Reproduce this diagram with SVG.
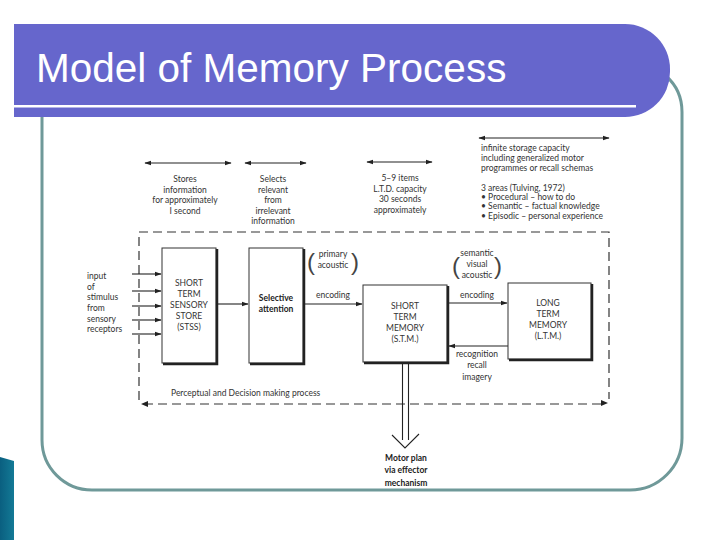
<svg xmlns="http://www.w3.org/2000/svg" width="720" height="540" viewBox="0 0 720 540">
<defs>
<marker id="ah" viewBox="0 0 10 10" refX="9" refY="5" markerWidth="7" markerHeight="7" orient="auto-start-reverse" markerUnits="userSpaceOnUse">
<path d="M0,1.5 L10,5 L0,8.5 Z" fill="#222"/>
</marker>
<linearGradient id="tg" x1="0" y1="0" x2="1" y2="0">
<stop offset="0" stop-color="#0a5f80"/>
<stop offset="1" stop-color="#137a96"/>
</linearGradient>
</defs>
<style>
.t{font-family:Lato,"Liberation Sans",sans-serif;font-size:8.5px;fill:#333;text-anchor:middle}
.l{text-anchor:start}
.b{font-weight:bold;fill:#222}
.ln{stroke:#222;stroke-width:1.1;fill:none}
.box{fill:#fff;stroke:#333;stroke-width:1}
.sh{stroke:#222;stroke-width:2.5;fill:none}
.dash{stroke:#333;stroke-width:1.2;fill:none;stroke-dasharray:9,5}
.par{font-family:"Liberation Sans",sans-serif;font-size:24px;fill:#444;font-weight:300}
</style>
<rect width="720" height="540" fill="#fff"/>
<path d="M0,457 L14,461 V540 H0 Z" fill="url(#tg)"/>
<path d="M42,117 V440 A50,50 0 0 0 92,490 H630 A52,52 0 0 0 682,438 V112 Q682,90 666,76" fill="none" stroke="#6f9999" stroke-width="3"/>
<g id="banner">
<path d="M14,24 H625 A45,45 0 0 1 670,69 V72 A45,45 0 0 1 625,117 H14 Z" fill="#6666cc"/>
<rect x="14" y="105" width="622" height="2.5" fill="#fff"/>
<text x="36" y="82" font-family="'Liberation Sans',Arial,sans-serif" font-size="40.5" fill="#fff">Model of Memory Process</text>
</g>
<g id="connectors">
<line class="ln" x1="145" y1="163" x2="231" y2="163" marker-start="url(#ah)" marker-end="url(#ah)"/>
<line class="ln" x1="245" y1="163" x2="306" y2="163" marker-start="url(#ah)" marker-end="url(#ah)"/>
<line class="ln" x1="367" y1="162" x2="432" y2="162" marker-start="url(#ah)" marker-end="url(#ah)"/>
<line class="ln" x1="479" y1="138" x2="609" y2="138" marker-start="url(#ah)" marker-end="url(#ah)"/>
<path class="dash" d="M139,400 V232 H609 V399"/>
<path class="dash" d="M144,404 H604"/>
<path d="M141,404 l7,-3 v6 Z M608,403 l-7,-3 v6 Z" fill="#222"/>
<line class="ln" x1="132" y1="274" x2="161" y2="274" marker-end="url(#ah)"/>
<line class="ln" x1="132" y1="291" x2="161" y2="291" marker-end="url(#ah)"/>
<line class="ln" x1="132" y1="306" x2="161" y2="306" marker-end="url(#ah)"/>
<line class="ln" x1="132" y1="320" x2="161" y2="320" marker-end="url(#ah)"/>
<line class="ln" x1="132" y1="334" x2="161" y2="334" marker-end="url(#ah)"/>
<line class="ln" x1="218" y1="304" x2="248" y2="304" marker-end="url(#ah)"/>
<line class="ln" x1="305" y1="304" x2="362" y2="304" marker-end="url(#ah)"/>
<line class="ln" x1="449" y1="303" x2="507" y2="303" marker-end="url(#ah)"/>
<line class="ln" x1="508" y1="346" x2="449" y2="346" marker-end="url(#ah)"/>
<path class="ln" d="M402.5,364 V440 M408.5,364 V440"/>
<path class="ln" d="M392,435 L405,448 L419,434"/>
</g>
<g id="stss">
<rect class="box" x="162" y="248" width="54" height="115"/>
<path class="sh" d="M217,249 V364 H163"/>
<text class="t"><tspan x="189" y="286">SHORT</tspan><tspan x="189" y="297">TERM</tspan><tspan x="189" y="308">SENSORY</tspan><tspan x="189" y="319">STORE</tspan><tspan x="189" y="330">(STSS)</tspan></text>
</g>
<g id="selective">
<rect class="box" x="249" y="248" width="54" height="115"/>
<path class="sh" d="M304,249 V364 H250"/>
<text class="t b"><tspan x="276" y="301">Selective</tspan><tspan x="276" y="312">attention</tspan></text>
</g>
<g id="stm">
<rect class="box" x="363" y="285" width="84" height="77"/>
<path class="sh" d="M448,286 V363 H364"/>
<text class="t"><tspan x="405" y="309">SHORT</tspan><tspan x="405" y="320">TERM</tspan><tspan x="405" y="331">MEMORY</tspan><tspan x="405" y="342">(S.T.M.)</tspan></text>
</g>
<g id="ltm">
<rect class="box" x="508" y="283" width="83" height="76"/>
<path class="sh" d="M592,284 V360 H509"/>
<text class="t"><tspan x="548" y="306">LONG</tspan><tspan x="548" y="317">TERM</tspan><tspan x="548" y="328">MEMORY</tspan><tspan x="548" y="339">(L.T.M.)</tspan></text>
</g>
<g id="motor">
<text class="t b"><tspan x="406" y="461">Motor plan</tspan><tspan x="406" y="473">via effector</tspan><tspan x="406" y="486">mechanism</tspan></text>
</g>
<g id="labels">
<text class="t"><tspan x="185" y="182">Stores</tspan><tspan x="185" y="193">information</tspan><tspan x="185" y="203">for approximately</tspan><tspan x="185" y="214">I second</tspan></text>
<text class="t"><tspan x="273" y="182">Selects</tspan><tspan x="273" y="193">relevant</tspan><tspan x="273" y="203">from</tspan><tspan x="273" y="214">irrelevant</tspan><tspan x="273" y="224">information</tspan></text>
<text class="t"><tspan x="400" y="181">5–9 items</tspan><tspan x="400" y="192">L.T.D. capacity</tspan><tspan x="400" y="202">30 seconds</tspan><tspan x="400" y="213">approximately</tspan></text>
<text class="t l"><tspan x="481" y="151">infinite storage capacity</tspan><tspan x="481" y="161">including generalized motor</tspan><tspan x="481" y="171">programmes or recall schemas</tspan><tspan x="481" y="191">3 areas (Tulving, 1972)</tspan><tspan x="481" y="200">•  Procedural – how to do</tspan><tspan x="481" y="209">•  Semantic – factual knowledge</tspan><tspan x="481" y="219">•  Episodic – personal experience</tspan></text>
<text class="t l"><tspan x="87" y="279">input</tspan><tspan x="87" y="290">of</tspan><tspan x="87" y="300">stimulus</tspan><tspan x="87" y="311">from</tspan><tspan x="87" y="322">sensory</tspan><tspan x="87" y="332">receptors</tspan></text>
<text class="t"><tspan x="333" y="257">primary</tspan><tspan x="333" y="268">acoustic</tspan></text>
<text class="par" x="307" y="270">(</text><text class="par" x="351" y="270">)</text>
<text class="t" x="333" y="298">encoding</text>
<text class="t"><tspan x="477" y="256">semantic</tspan><tspan x="477" y="267">visual</tspan><tspan x="477" y="278">acoustic</tspan></text>
<text class="par" x="452" y="274" font-size="34">(</text><text class="par" x="494" y="274" font-size="34">)</text>
<text class="t" x="477" y="298">encoding</text>
<text class="t"><tspan x="477" y="357">recognition</tspan><tspan x="477" y="368">recall</tspan><tspan x="477" y="380">imagery</tspan></text>
<text class="t l" x="171" y="396">Perceptual and Decision making process</text>
</g>
</svg>
